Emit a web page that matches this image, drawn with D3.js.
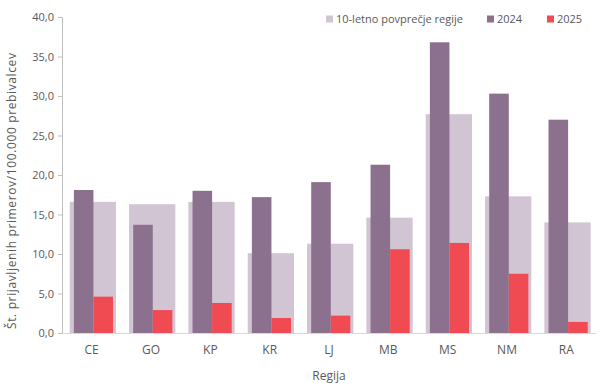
<!DOCTYPE html>
<html>
<head>
<meta charset="utf-8">
<script src="https://cdn.jsdelivr.net/npm/d3@7"></script>
<style>
  body { margin: 0; background: #fff; }
  text { font-family: "Open Sans", "Noto Sans", sans-serif; fill: #595959; }
</style>
</head>
<body>
<svg id="chart" width="612" height="388"></svg>
<script>
// data
var regions = ["CE", "GO", "KP", "KR", "LJ", "MB", "MS", "NM", "RA"];
var avg10 = [16.6, 16.3, 16.6, 10.1, 11.3, 14.6, 27.7, 17.3, 14.0];
var y2024 = [18.1, 13.7, 18.0, 17.2, 19.1, 21.3, 36.8, 30.3, 27.0];
var y2025 = [4.6, 2.9, 3.8, 1.9, 2.2, 10.6, 11.4, 7.5, 1.4];
var yTicks = [0, 5, 10, 15, 20, 25, 30, 35, 40];

var colors = { avg: "#d2c5d3", a: "#8c718f", b: "#f04a53" };

var svg = d3.select("#chart");
// plot area (window.top is reserved, so use other names)
var plotL = 62, plotR = 596, plotT = 17, plotB = 333;

var x = d3.scaleBand().domain(regions).range([plotL, plotR]);
var y = d3.scaleLinear().domain([0, 40]).range([plotB, plotT]);
var bw = x.bandwidth();

var fmt = function(d) { return d3.format(".1f")(d).replace(".", ","); };

// 10-year average, wide bar behind
svg.append("g").selectAll("rect")
  .data(regions)
  .enter().append("rect")
  .attr("x", function(d) { return x(d) + bw * 0.13; })
  .attr("width", bw * 0.78)
  .attr("y", function(d, i) { return y(avg10[i]); })
  .attr("height", function(d, i) { return plotB - y(avg10[i]); })
  .attr("fill", colors.avg);

// 2024
svg.append("g").selectAll("rect")
  .data(regions)
  .enter().append("rect")
  .attr("x", function(d) { return x(d) + bw * 0.2; })
  .attr("width", bw * 0.33)
  .attr("y", function(d, i) { return y(y2024[i]); })
  .attr("height", function(d, i) { return plotB - y(y2024[i]); })
  .attr("fill", colors.a);

// 2025
svg.append("g").selectAll("rect")
  .data(regions)
  .enter().append("rect")
  .attr("x", function(d) { return x(d) + bw * 0.53; })
  .attr("width", bw * 0.33)
  .attr("y", function(d, i) { return y(y2025[i]); })
  .attr("height", function(d, i) { return plotB - y(y2025[i]); })
  .attr("fill", colors.b);

// y axis
var yAxis = svg.append("g")
  .attr("transform", "translate(" + plotL + ",0)")
  .call(d3.axisLeft(y).tickValues(yTicks).tickFormat(fmt).tickSize(4).tickPadding(4));
yAxis.selectAll("line, path").attr("stroke", "#bfbfbf");
yAxis.selectAll("text").style("font-size", "11px").attr("fill", "#595959");

// x axis
var xAxis = svg.append("g")
  .attr("transform", "translate(0," + plotB + ")")
  .call(d3.axisBottom(x).tickSize(0).tickPadding(12));
xAxis.select("path").attr("stroke", "#d9d9d9");
xAxis.selectAll("text").style("font-size", "12px").attr("fill", "#595959");

// axis titles
svg.append("text")
  .attr("transform", "translate(16,191) rotate(-90)")
  .attr("text-anchor", "middle")
  .attr("textLength", 276)
  .attr("lengthAdjust", "spacing")
  .style("font-size", "12px")
  .text("Št. prijavljenih primerov/100.000 prebivalcev");

svg.append("text")
  .attr("x", (plotL + plotR) / 2)
  .attr("y", 380)
  .attr("text-anchor", "middle")
  .style("font-size", "12px")
  .text("Regija");

// legend
var legend = [
  { label: "10-letno povprečje regije", color: colors.avg, x: 326 },
  { label: "2024", color: colors.a, x: 487 },
  { label: "2025", color: colors.b, x: 547 }
];
var lg = svg.append("g").selectAll("g")
  .data(legend)
  .enter().append("g")
  .attr("transform", function(d) { return "translate(" + d.x + ",19)"; });
lg.append("rect")
  .attr("x", 0).attr("y", -3.5)
  .attr("width", 7).attr("height", 7)
  .attr("fill", function(d) { return d.color; });
lg.append("text")
  .attr("x", 10).attr("y", 4)
  .style("font-size", "11px")
  .text(function(d) { return d.label; });
</script>
</body>
</html>
